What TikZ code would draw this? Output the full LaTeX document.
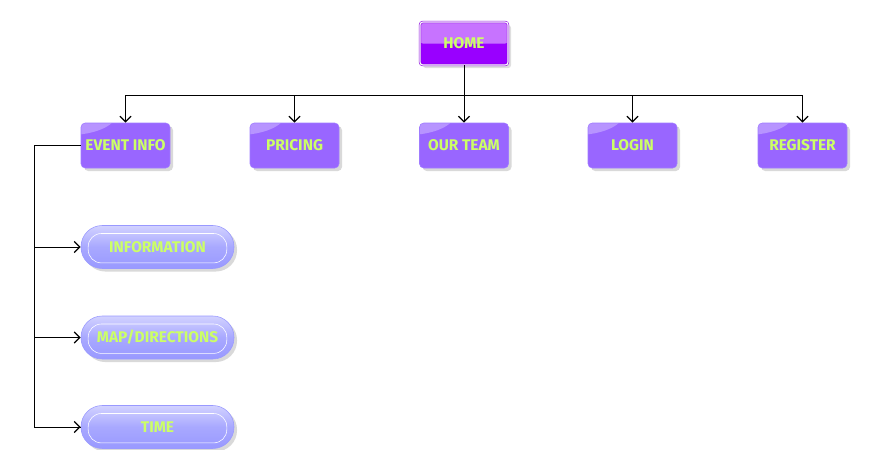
\documentclass[tikz,border=0pt]{standalone}
\usepackage{fontspec}
\setsansfont{Fira Sans}
\usetikzlibrary{arrows.meta,positioning,shadows}
\definecolor{homeFill}{HTML}{9900FF}
\definecolor{homeStroke}{HTML}{8800DD}
\definecolor{pageFill}{HTML}{9966FF}
\definecolor{pageStroke}{HTML}{A07CFF}
\definecolor{subFill}{HTML}{9999FF}
\definecolor{subTop}{HTML}{D2D2FF}
\definecolor{textLime}{HTML}{CCFF66}

\begin{document}
\begin{tikzpicture}[
    font=\sffamily\bfseries\fontsize{11}{12}\selectfont,
    >={Straight Barb[length=4pt,width=8pt,line width=0.9pt]},
    homeNode/.style={
        rectangle, rounded corners=2pt,
        draw=homeStroke, double=white, double distance=0.8pt,
        fill=homeFill, text=textLime,
        minimum width=2.2cm, minimum height=1.075cm,
        drop shadow={opacity=0.25},
        path picture={
          \fill[white,opacity=0.45] (path picture bounding box.north west)
            rectangle (path picture bounding box.east);
        }
    },
    pageNode/.style={
        rectangle, rounded corners=3pt,
        draw=pageStroke, fill=pageFill, text=textLime,
        minimum width=2.225cm, minimum height=1.125cm, inner xsep=1pt,
        drop shadow={opacity=0.3},
        path picture={
          \fill[white,opacity=0.3] ([shift={(-0.3cm,0.25cm)}]path picture bounding box.north west)
            ellipse [x radius=1.2cm, y radius=0.55cm];
        }
    },
    subNode/.style={
        rectangle, rounded corners=0.53cm,
        draw=subFill, top color=subTop, bottom color=subFill, middle color=subFill!85!white,
        shading angle=0, text=textLime,
        minimum width=3.825cm, minimum height=1.075cm,
        drop shadow={opacity=0.3},
        path picture={
          \draw[white, rounded corners=0.33cm]
            ([shift={(0.18cm,-0.2cm)}]path picture bounding box.north west)
            rectangle ([shift={(-0.18cm,0.14cm)}]path picture bounding box.south east);
        }
    },
    link/.style={->, semithick, draw=black}
]

\useasboundingbox (0,0) rectangle (21.95,-11.225);

% Top level
\node[homeNode] (Home) at (11.6,-1.0875) {HOME};

% Second level pages
\node[pageNode] (EventInfo) at (3.1375,-3.6375) {EVENT INFO};
\node[pageNode] (Pricing)   at (7.3625,-3.6375) {PRICING};
\node[pageNode] (OurTeam)   at (11.6,-3.6375)   {OUR TEAM};
\node[pageNode] (Login)     at (15.8125,-3.6375) {LOGIN};
\node[pageNode] (Register)  at (20.0625,-3.6375) {REGISTER};

% Event info sub pages
\node[subNode] (Information) at (3.9375,-6.175)  {INFORMATION};
\node[subNode] (MapDir)      at (3.9375,-8.4375) {MAP/DIRECTIONS};
\node[subNode] (Time)        at (3.9375,-10.675) {TIME};

% Bus below home
\coordinate (Bus) at (11.6,-2.375);
\coordinate (Spine) at (0.85,-3.6375);

\draw[semithick] (Home.south) -- (Bus);
\foreach \p in {EventInfo,Pricing,OurTeam,Login,Register}
  \draw[link] (Bus) -| (\p.north);

\draw[semithick] (EventInfo.west) -- (Spine) |- (Time.west);
\foreach \s in {Information,MapDir,Time}
  \draw[link] (Spine |- \s.west) -- (\s.west);

\end{tikzpicture}
\end{document}
